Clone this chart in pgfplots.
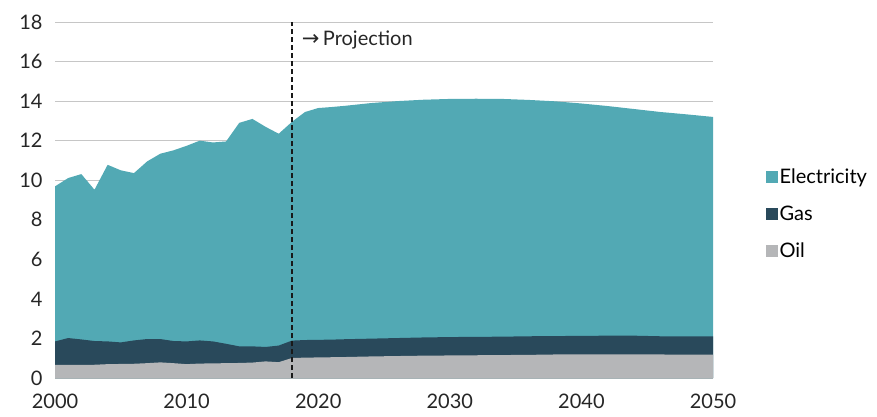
\documentclass[border=0pt]{standalone}
\usepackage{pgfplots}
\pgfplotsset{compat=1.18}
\usepackage{pgfplotstable}
\usepackage{fontspec}
\setmainfont{Lato}
\newfontfamily\sym{DejaVu Sans}
\definecolor{elec}{HTML}{52A9B4}
\definecolor{gas}{HTML}{29495B}
\definecolor{oil}{HTML}{B5B6B8}
\definecolor{gridc}{HTML}{C6C6C6}
\pgfplotstableread{
year oil go total
2000 0.67 1.85 9.69
2001 0.67 2.02 10.11
2002 0.67 1.95 10.31
2003 0.67 1.87 9.52
2004 0.70 1.85 10.78
2005 0.71 1.80 10.50
2006 0.72 1.90 10.36
2007 0.75 1.97 10.95
2008 0.79 1.97 11.34
2009 0.75 1.87 11.51
2010 0.70 1.85 11.74
2011 0.73 1.90 12.00
2012 0.74 1.85 11.91
2013 0.75 1.73 11.96
2014 0.76 1.60 12.90
2015 0.78 1.60 13.10
2016 0.84 1.57 12.70
2017 0.80 1.64 12.35
2018 1.01 1.89 12.95
2019 1.03 1.92 13.45
2020 1.04 1.93 13.65
2021 1.05 1.94 13.70
2022 1.06 1.96 13.76
2024 1.09 1.99 13.90
2026 1.11 2.02 14.00
2028 1.13 2.05 14.07
2030 1.14 2.07 14.11
2032 1.15 2.08 14.12
2034 1.16 2.09 14.11
2036 1.17 2.11 14.06
2038 1.19 2.12 13.99
2040 1.20 2.13 13.88
2042 1.20 2.14 13.75
2044 1.20 2.14 13.60
2046 1.19 2.11 13.45
2048 1.18 2.10 13.33
2050 1.18 2.10 13.20
}\datatable
\begin{document}
\begin{tikzpicture}
\useasboundingbox (0,0) rectangle (877pt,416pt);
\begin{axis}[
  at={(55pt,38pt)}, anchor=south west,
  scale only axis, width=658pt, height=356pt,
  xmin=2000, xmax=2050, ymin=0, ymax=18,
  xtick={2000,2010,...,2050}, ytick={0,2,...,18},
  xticklabel style={/pgf/number format/1000 sep={}},
  /pgf/number format/assume math mode=true,
  tick label style={font=\fontsize{20}{22}\selectfont, text=black!85},
  major tick length=0pt,
  yticklabel style={xshift=-9pt},
  xticklabel style={yshift=-12pt},
  axis line style={draw=none},
  ymajorgrids, grid style={gridc, line width=1pt},
  legend style={at={(1.075,0.461)}, anchor=west, draw=none, fill=none,
    font=\fontsize{20}{22}\selectfont, row sep=17pt,
    /tikz/every even column/.append style={column sep=0pt}},
  legend cell align=left,
  legend image code/.code={\fill[#1] (0pt,-6pt) rectangle (12pt,6pt);},
]
\addplot[draw=none, fill=elec] table[x=year, y=total] {\datatable} \closedcycle;
\addlegendentry{Electricity}
\addplot[draw=none, fill=gas] table[x=year, y=go] {\datatable} \closedcycle;
\addlegendentry{Gas}
\addplot[draw=none, fill=oil] table[x=year, y=oil] {\datatable} \closedcycle;
\addlegendentry{Oil}
\draw[black!90, line width=1.6pt, dash pattern=on 5pt off 3pt] (axis cs:2018,0) -- (axis cs:2018,18.1);
\node[anchor=west, font=\fontsize{20}{22}\selectfont, text=black!85] at (axis cs:2018.5,17.1) {{\sym\fontsize{21}{22}\selectfont →}\,Projection};
\end{axis}
\end{tikzpicture}
\end{document}
